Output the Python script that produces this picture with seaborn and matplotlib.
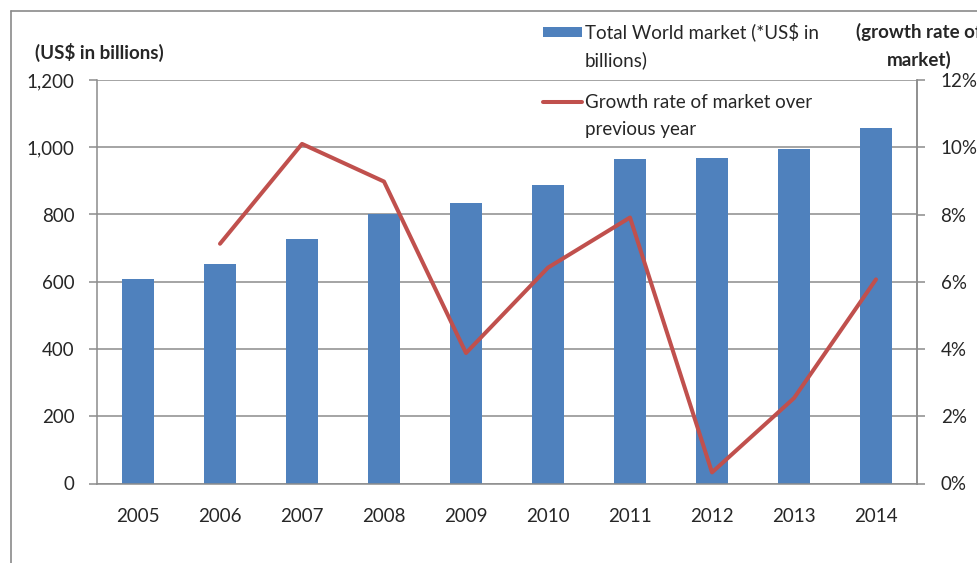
import numpy as np
import pandas as pd
import matplotlib
matplotlib.use("Agg")
import matplotlib.pyplot as plt
from matplotlib.lines import Line2D
from matplotlib.patches import Rectangle
from matplotlib.ticker import FuncFormatter, FixedLocator
import seaborn as sns

# Market size and growth by year
years = ["2005", "2006", "2007", "2008", "2009", "2010", "2011", "2012", "2013", "2014"]
market_usd_bn = [607, 654, 727, 801, 833, 888, 966, 968, 995, 1058]
growth_years = ["2006", "2007", "2008", "2009", "2010", "2011", "2012", "2013", "2014"]
growth_pct = [7.13, 10.1, 8.98, 3.88, 6.42, 7.91, 0.33, 2.54, 6.07]

left_ticks = [0, 200, 400, 600, 800, 1000, 1200]
right_ticks = [0, 2, 4, 6, 8, 10, 12]

bar_label = "Total World market (*US$ in\nbillions)"
line_label = "Growth rate of market over\nprevious year"
left_title = "(US$ in billions)"
right_title = "(growth rate of\nmarket)"

BLUE = "#4F81BD"
RED = "#C0504D"
GRID = "#8C8C8C"
TEXT = "#262626"

sns.set_theme(style="white")
plt.rcParams["font.family"] = ["Lato", "DejaVu Sans"]
plt.rcParams["text.color"] = TEXT
plt.rcParams["xtick.color"] = GRID
plt.rcParams["ytick.color"] = GRID
plt.rcParams["xtick.labelcolor"] = TEXT
plt.rcParams["ytick.labelcolor"] = TEXT

W, H = 977, 563
fig = plt.figure(figsize=(W / 100, H / 100), dpi=100)
ax = fig.add_axes([97 / W, 1 - 483.5 / H, (917 - 97) / W, (483.5 - 80) / H])

bars = pd.DataFrame({"year": years, "value": market_usd_bn})
sns.barplot(data=bars, x="year", y="value", color=BLUE, width=0.4,
            saturation=1, edgecolor="none", ax=ax, zorder=2)

ax.set_xlim(-0.5, len(years) - 0.5)
ax.set_ylim(0, 1200)
ax.yaxis.set_major_locator(FixedLocator(left_ticks))
ax.yaxis.set_major_formatter(FuncFormatter(lambda v, _: f"{v:,.0f}"))
ax.yaxis.grid(True, color=GRID, linewidth=1.1)
ax.set_axisbelow(True)
ax.set_xlabel("")
ax.set_ylabel("")

ax.xaxis.set_minor_locator(FixedLocator(np.arange(-0.5, len(years), 1.0)))
ax.tick_params(axis="x", which="major", length=0, pad=18, labelsize=13.5)
ax.tick_params(axis="x", which="minor", length=6, width=1.1, direction="out", color=GRID)
ax.tick_params(axis="y", which="major", length=6, width=1.1, direction="out", pad=10, labelsize=13.5)

for side in ["left", "bottom", "right"]:
    ax.spines[side].set_color(GRID)
    ax.spines[side].set_linewidth(1.1)
ax.spines["top"].set_visible(False)

ax2 = ax.twinx()
line_df = pd.DataFrame({"pos": [years.index(y) for y in growth_years], "growth": growth_pct})
sns.lineplot(data=line_df, x="pos", y="growth", color=RED, linewidth=2.9, ax=ax2, zorder=3)
ax2.set_ylim(0, 12)
ax2.yaxis.set_major_locator(FixedLocator(right_ticks))
ax2.yaxis.set_major_formatter(FuncFormatter(lambda v, _: f"{v:.0f}%"))
ax2.tick_params(axis="y", which="major", length=6, width=1.1, direction="out", pad=11, labelsize=13.5)
ax2.set_ylabel("")
ax2.set_xlabel("")
for side in ["left", "bottom", "top"]:
    ax2.spines[side].set_visible(False)
ax2.spines["right"].set_color(GRID)
ax2.spines["right"].set_linewidth(1.1)

# Axis titles
fig.text(35 / W, 1 - 52 / H, left_title, ha="left", va="center",
         fontsize=13.5, fontweight="bold", color=TEXT)
fig.text(919 / W, 1 - 46 / H, right_title, ha="center", va="center",
         fontsize=13.5, fontweight="bold", color=TEXT, linespacing=1.7)

# Legend entries
fig.add_artist(Rectangle((543 / W, 1 - 37 / H), 39 / W, 10 / H,
                         transform=fig.transFigure, color=BLUE, lw=0))
fig.text(585 / W, 1 - 46 / H, bar_label, ha="left", va="center",
         fontsize=13.5, color=TEXT, linespacing=1.7)
fig.add_artist(Line2D([543 / W, 582 / W], [1 - 102 / H, 1 - 102 / H],
                      transform=fig.transFigure, color=RED, lw=2.9))
fig.text(585 / W, 1 - 116 / H, line_label, ha="left", va="center",
         fontsize=13.5, color=TEXT, linespacing=1.7)

# Outer chart frame
fig.add_artist(Line2D([10.5 / W, 1.0], [1 - 11 / H, 1 - 11 / H],
                      transform=fig.transFigure, color="#8A8A8A", lw=1.2))
fig.add_artist(Line2D([10.5 / W, 10.5 / W], [0.0, 1 - 11 / H],
                      transform=fig.transFigure, color="#8A8A8A", lw=1.2))

fig.savefig("out.png", dpi=100, facecolor="white")
